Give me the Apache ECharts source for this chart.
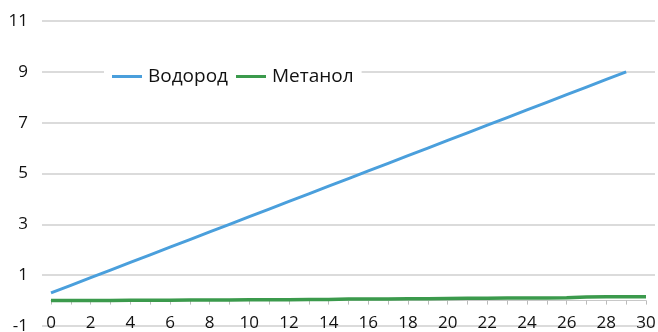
<!DOCTYPE html>
<html lang="ru">

<head>
  <meta charset="UTF-8" />
  <title>Водород / Метанол</title>
  <script src="https://cdn.jsdelivr.net/npm/echarts@6/dist/echarts.min.js"></script>
</head>

<body style="margin:0">
  <div id="main" style="width: 658px;height:332px;"></div>
  <script type="text/javascript">
    // значения
    var xVodorod = [0, 1, 2, 3, 4, 5, 6, 7, 8, 9, 10, 11, 12, 13, 14, 15, 16, 17, 18, 19, 20, 21, 22, 23, 24, 25, 26, 27, 28, 29]
    var vodorod = [0.3, 0.6, 0.9, 1.2, 1.5, 1.8, 2.1, 2.4, 2.7, 3.0, 3.3, 3.6, 3.9, 4.2, 4.5, 4.8, 5.1, 5.4, 5.7, 6.0, 6.3, 6.6, 6.9, 7.2, 7.5, 7.8, 8.1, 8.4, 8.7, 9.0]
    var xMetanol = [0, 1, 2, 3, 4, 5, 6, 7, 8, 9, 10, 11, 12, 13, 14, 15, 16, 17, 18, 19, 20, 21, 22, 23, 24, 25, 26, 27, 28, 29, 30]
    var metanol = [0.0, 0.0, 0.0, 0.0, 0.01, 0.01, 0.01, 0.02, 0.02, 0.02, 0.03, 0.03, 0.03, 0.04, 0.04, 0.06, 0.06, 0.06, 0.07, 0.07, 0.08, 0.09, 0.09, 0.1, 0.1, 0.1, 0.11, 0.14, 0.15, 0.15, 0.15]
    var seriesNames = ['Водород', 'Метанол']

    function pairs(xs, ys) {
      return xs.map(function (x, i) { return [x, ys[i]] })
    }

    var myChart = echarts.init(document.getElementById('main'))
    var font = 'Open Sans'
    // ось X проходит через 0, а не по низу сетки (-1): сдвиг на одну единицу шкалы
    var gridTop = 21, gridBottom = 6
    var unitPx = (332 - gridTop - gridBottom) / 12
    var yScale = { type: 'value', min: -1, max: 11, interval: 2 }
    var option = {
      backgroundColor: '#fff',
      animation: false,
      grid: [
        { left: 51, right: 12, top: gridTop, bottom: gridBottom, outerBoundsMode: 'none', containLabel: false },
        // вторая сетка шире — только для линий сетки, которые выходят за область графика
        { left: 42, right: 3, top: gridTop, bottom: gridBottom, outerBoundsMode: 'none', containLabel: false }
      ],
      legend: {
        left: 104,
        top: 65,
        z: 10,
        itemWidth: 30,
        itemHeight: 3,
        itemGap: 8,
        padding: [2, 8],
        backgroundColor: '#fff',
        icon: 'rect',
        textStyle: { fontFamily: font, fontSize: 19, color: '#111', padding: [0, 0, 0, 1] },
        data: seriesNames
      },
      xAxis: [
        {
          gridIndex: 0,
          type: 'value',
          min: 0,
          max: 30,
          interval: 2,
          offset: -unitPx,
          z: 3,
          axisLine: { onZero: false, lineStyle: { color: '#c8c8c8', width: 1 } },
          axisTick: { show: true, length: 4, lineStyle: { color: '#bbb' } },
          minorTick: { show: true, splitNumber: 2, length: 4, lineStyle: { color: '#bbb' } },
          axisLabel: { fontFamily: font, fontSize: 17, color: '#111', margin: 14 },
          splitLine: { show: false }
        },
        { gridIndex: 1, type: 'value', min: 0, max: 1, show: false }
      ],
      yAxis: [
        Object.assign({}, yScale, {
          gridIndex: 0,
          axisLine: { show: false },
          axisTick: { show: false },
          axisLabel: { fontFamily: font, fontSize: 17, color: '#111', margin: 23 },
          splitLine: { show: false }
        }),
        Object.assign({}, yScale, {
          gridIndex: 1,
          z: 0,
          axisLine: { show: false },
          axisTick: { show: false },
          axisLabel: { show: false },
          splitLine: { lineStyle: { color: '#cfcfcf', width: 1.5 } }
        })
      ],
      series: [
        {
          name: seriesNames[0],
          type: 'line',
          xAxisIndex: 0,
          yAxisIndex: 0,
          showSymbol: false,
          data: pairs(xVodorod, vodorod),
          lineStyle: { color: '#4a9fdc', width: 3 },
          itemStyle: { color: '#4a9fdc' }
        },
        {
          name: seriesNames[1],
          type: 'line',
          xAxisIndex: 0,
          yAxisIndex: 0,
          showSymbol: false,
          data: pairs(xMetanol, metanol),
          lineStyle: { color: '#3b9a4c', width: 3.5 },
          itemStyle: { color: '#3b9a4c' }
        }
      ]
    }
    myChart.setOption(option)
  </script>
</body>

</html>
